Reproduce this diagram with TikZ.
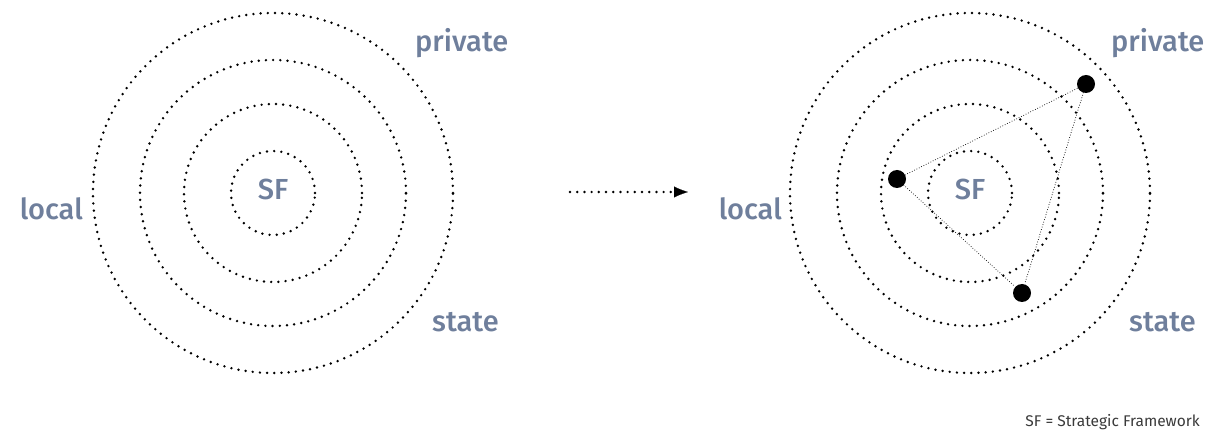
\documentclass[tikz,border=0pt]{standalone}
\usepackage{fontspec}
\setmainfont{Fira Sans}
\newfontfamily\labfont{Fira Sans}[UprightFont=* Medium]
\usetikzlibrary{arrows.meta}
\definecolor{slate}{HTML}{6F7F9C}
\definecolor{notegray}{HTML}{3A3A3A}
\tikzset{
  ring/.style={circle, draw=black, line width=2.7pt, dash pattern=on 0pt off 7.2pt, line cap=round, inner sep=0pt, minimum size=#1},
  lab/.style={text=slate, font=\labfont\fontsize{29}{29}\selectfont, inner sep=0pt},
  bigdot/.style={circle, fill=black, inner sep=0pt, minimum size=18pt},
  link/.style={draw=black, line width=1pt, dash pattern=on 0pt off 2.6pt, line cap=round},
  flow/.style={draw=black, line width=2.7pt, dash pattern=on 0pt off 7.2pt, line cap=round}
}
\begin{document}
\begin{tikzpicture}[x=1pt,y=-1pt]
\useasboundingbox (0,0) rectangle (1211,430);
% left diagram
\coordinate (L) at (273,193);
\node[ring=360pt] (L4) at (L) {};
\node[ring=266pt] (L3) at (L) {};
\node[ring=178pt] (L2) at (L) {};
\node[ring=84pt] (L1) at (L) {};
\node[lab, anchor=base] (Lsf) at (273,200) {SF};
\node[lab, anchor=base west] (Lpriv) at (415,52) {private};
\node[lab, anchor=base east] (Lloc) at (83,220) {local};
\node[lab, anchor=base west] (Lsta) at (432,332) {state};
% arrow
\coordinate (A1) at (570,192);
\coordinate (A2) at (688,192);
\draw[flow] (A1) -- ([xshift=-10pt]A2);
\draw[-{Latex[length=14pt,width=11pt]}, line width=0.1pt, draw=black] ([xshift=-14pt]A2) -- (A2);
% right diagram
\coordinate (R) at (970,193);
\node[ring=360pt] (R4) at (R) {};
\node[ring=266pt] (R3) at (R) {};
\node[ring=178pt] (R2) at (R) {};
\node[ring=84pt] (R1) at (R) {};
\node[lab, anchor=base] (Rsf) at (970,200) {SF};
\node[lab, anchor=base west] (Rpriv) at (1111,52) {private};
\node[lab, anchor=base east] (Rloc) at (782,220) {local};
\node[lab, anchor=base west] (Rsta) at (1129,332) {state};
\node[bigdot] (D1) at (897,179) {};
\node[bigdot] (D2) at (1086,84) {};
\node[bigdot] (D3) at (1022,293) {};
\draw[link] (D1) -- (D2);
\draw[link] (D1) -- (D3);
\draw[link] (D2) -- (D3);
% note
\node[anchor=base east, text=notegray, font=\fontsize{15.5}{15.5}\selectfont, inner sep=0pt] (note) at (1200,427) {SF = Strategic Framework};
\end{tikzpicture}
\end{document}
